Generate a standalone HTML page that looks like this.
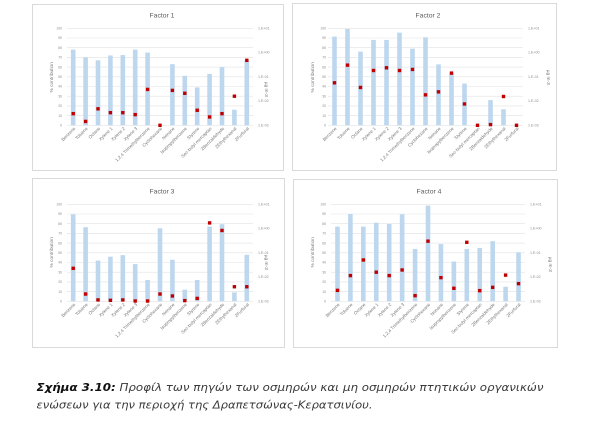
<!DOCTYPE html>
<html><head><meta charset="utf-8"><style>
html,body{margin:0;padding:0;background:#fff;width:600px;height:438px;overflow:hidden}
svg{display:block}
.t{font-family:"Liberation Sans",sans-serif}
.ttl{font-size:6.8px;fill:#595959;text-anchor:middle}
.yl{font-size:3.4px;fill:#8a8a8a;text-anchor:end}
.yr{font-size:3.6px;fill:#8a8a8a}
.at{font-size:4.8px;fill:#777;text-anchor:middle}
.cl{font-size:4.5px;fill:#777;text-anchor:end}
.g{stroke:#e2e2e2;stroke-width:0.6;fill:none}
.b{fill:#bdd7ee}
.m{fill:#c00000}
</style></head><body>
<svg width="600" height="438" viewBox="0 0 600 438" xmlns="http://www.w3.org/2000/svg">
<rect width="600" height="438" fill="#fff"/>
<!-- chart boxes -->
<rect x="32.5" y="4.5" width="251" height="166" fill="#fff" stroke="#d9d9d9" stroke-width="1"/>
<rect x="292.5" y="3.5" width="264" height="167" fill="#fff" stroke="#d9d9d9" stroke-width="1"/>
<rect x="32.5" y="178.5" width="252" height="169" fill="#fff" stroke="#d9d9d9" stroke-width="1"/>
<rect x="293.5" y="179.5" width="264" height="168" fill="#fff" stroke="#d9d9d9" stroke-width="1"/>

<!-- CHART 1 -->
<g class="t" transform="translate(67,28.3)">
<text class="ttl" x="95" y="-10.8">Factor 1</text>
<path class="g" d="M0 0H186M0 9.7H186M0 19.4H186M0 29.1H186M0 38.8H186M0 48.5H186M0 58.2H186M0 67.9H186M0 77.6H186M0 87.3H186M0 97H186"/>
<g class="yl"><text x="-5" y="1.2">100</text><text x="-5" y="10.9">90</text><text x="-5" y="20.6">80</text><text x="-5" y="30.3">70</text><text x="-5" y="40">60</text><text x="-5" y="49.7">50</text><text x="-5" y="59.4">40</text><text x="-5" y="69.1">30</text><text x="-5" y="78.8">20</text><text x="-5" y="88.5">10</text><text x="-5" y="98.2">0</text></g>
<g class="yr"><text x="191" y="1.2">1.E+01</text><text x="191" y="25.4">1.E+00</text><text x="191" y="49.7">1.E-01</text><text x="191" y="73.9">1.E-02</text><text x="191" y="98.2">1.E-03</text></g>
<text class="at" transform="translate(-14,49) rotate(-90)">% contribution</text>
<text class="at" transform="translate(198,61) rotate(90)">μg m-3</text>
<g class="b">
<rect x="3.9" y="21.34" width="4.6" height="75.66"/><rect x="16.3" y="29.1" width="4.6" height="67.9"/><rect x="28.7" y="32.01" width="4.6" height="64.99"/><rect x="41.1" y="27.16" width="4.6" height="69.84"/><rect x="53.5" y="26.77" width="4.6" height="70.23"/><rect x="65.9" y="21.34" width="4.6" height="75.66"/><rect x="78.3" y="24.25" width="4.6" height="72.75"/><rect x="103.1" y="35.89" width="4.6" height="61.11"/><rect x="115.5" y="47.53" width="4.6" height="49.47"/><rect x="127.9" y="59.17" width="4.6" height="37.83"/><rect x="140.3" y="45.59" width="4.6" height="51.41"/><rect x="152.7" y="38.8" width="4.6" height="58.2"/><rect x="165.1" y="81.48" width="4.6" height="15.52"/><rect x="177.5" y="32.01" width="4.6" height="64.99"/>
</g>
<g class="m">
<rect x="4.5" y="83.66" width="3.4" height="3.4"/><rect x="16.9" y="91.42" width="3.4" height="3.4"/><rect x="29.3" y="78.81" width="3.4" height="3.4"/><rect x="41.7" y="82.69" width="3.4" height="3.4"/><rect x="54.1" y="82.69" width="3.4" height="3.4"/><rect x="66.5" y="84.63" width="3.4" height="3.4"/><rect x="78.9" y="59.41" width="3.4" height="3.4"/><rect x="91.3" y="95.3" width="3.4" height="3.4"/><rect x="103.7" y="60.38" width="3.4" height="3.4"/><rect x="116.1" y="63.29" width="3.4" height="3.4"/><rect x="128.5" y="80.27" width="3.4" height="3.4"/><rect x="140.9" y="86.96" width="3.4" height="3.4"/><rect x="153.3" y="83.66" width="3.4" height="3.4"/><rect x="165.7" y="66.2" width="3.4" height="3.4"/><rect x="178.1" y="30.31" width="3.4" height="3.4"/>
</g>
<g class="cl">
<text transform="translate(8.7,100.5) rotate(-45)">Benzene</text><text transform="translate(21.1,100.5) rotate(-45)">Toluene</text><text transform="translate(33.5,100.5) rotate(-45)">Octane</text><text transform="translate(45.9,100.5) rotate(-45)">Xylene 1</text><text transform="translate(58.3,100.5) rotate(-45)">Xylene 2</text><text transform="translate(70.7,100.5) rotate(-45)">Xylene 3</text><text transform="translate(83.1,100.5) rotate(-45)">1,2,4 Trimethylbenzene</text><text transform="translate(95.5,100.5) rotate(-45)">Cyclohexane</text><text transform="translate(107.9,100.5) rotate(-45)">Nonane</text><text transform="translate(120.3,100.5) rotate(-45)">Isopropylbenzene</text><text transform="translate(132.7,100.5) rotate(-45)">Styrene</text><text transform="translate(145.1,100.5) rotate(-45)">Sec-butyl mercaptan</text><text transform="translate(157.5,100.5) rotate(-45)">2Benzaldehyde</text><text transform="translate(169.9,100.5) rotate(-45)">2Ethylhexanal</text><text transform="translate(182.3,100.5) rotate(-45)">2Furfural</text>
</g>
</g>

<!-- CHART 2 -->
<g class="t" transform="translate(328,28.3)">
<text class="ttl" x="100" y="-10.8">Factor 2</text>
<path class="g" d="M0 0H195M0 9.7H195M0 19.4H195M0 29.1H195M0 38.8H195M0 48.5H195M0 58.2H195M0 67.9H195M0 77.6H195M0 87.3H195M0 97H195"/>
<g class="yl"><text x="-2" y="1.2">100</text><text x="-2" y="10.9">90</text><text x="-2" y="20.6">80</text><text x="-2" y="30.3">70</text><text x="-2" y="40">60</text><text x="-2" y="49.7">50</text><text x="-2" y="59.4">40</text><text x="-2" y="69.1">30</text><text x="-2" y="78.8">20</text><text x="-2" y="88.5">10</text><text x="-2" y="98.2">0</text></g>
<g class="yr"><text x="200" y="1.2">1.E+01</text><text x="200" y="25.4">1.E+00</text><text x="200" y="49.7">1.E-01</text><text x="200" y="73.9">1.E-02</text><text x="200" y="98.2">1.E-03</text></g>
<text class="at" transform="translate(-14,49) rotate(-90)">% contribution</text>
<text class="at" transform="translate(219,49) rotate(90)">μg m-3</text>
<g class="b">
<rect x="4.2" y="8.34" width="4.6" height="88.66"/><rect x="17.2" y="0.68" width="4.6" height="96.32"/><rect x="30.2" y="23.28" width="4.6" height="73.72"/><rect x="43.2" y="11.64" width="4.6" height="85.36"/><rect x="56.2" y="11.64" width="4.6" height="85.36"/><rect x="69.2" y="4.36" width="4.6" height="92.64"/><rect x="82.2" y="20.37" width="4.6" height="76.63"/><rect x="95.2" y="9.02" width="4.6" height="87.98"/><rect x="108.2" y="36.08" width="4.6" height="60.92"/><rect x="121.2" y="45.2" width="4.6" height="51.8"/><rect x="134.2" y="55.29" width="4.6" height="41.71"/><rect x="160.2" y="71.78" width="4.6" height="25.22"/><rect x="173.2" y="80.99" width="4.6" height="16.01"/>
</g>
<g class="m">
<rect x="4.8" y="52.81" width="3.4" height="3.4"/><rect x="17.8" y="35.16" width="3.4" height="3.4"/><rect x="30.8" y="57.47" width="3.4" height="3.4"/><rect x="43.8" y="40.5" width="3.4" height="3.4"/><rect x="56.8" y="37.78" width="3.4" height="3.4"/><rect x="69.8" y="40.5" width="3.4" height="3.4"/><rect x="82.8" y="39.43" width="3.4" height="3.4"/><rect x="95.8" y="64.84" width="3.4" height="3.4"/><rect x="108.8" y="61.84" width="3.4" height="3.4"/><rect x="121.8" y="43.11" width="3.4" height="3.4"/><rect x="134.8" y="73.96" width="3.4" height="3.4"/><rect x="147.8" y="95.3" width="3.4" height="3.4"/><rect x="160.8" y="94.62" width="3.4" height="3.4"/><rect x="173.8" y="66.49" width="3.4" height="3.4"/><rect x="186.8" y="95.3" width="3.4" height="3.4"/>
</g>
<g class="cl">
<text transform="translate(9,100.5) rotate(-45)">Benzene</text><text transform="translate(22,100.5) rotate(-45)">Toluene</text><text transform="translate(35,100.5) rotate(-45)">Octane</text><text transform="translate(48,100.5) rotate(-45)">Xylene 1</text><text transform="translate(61,100.5) rotate(-45)">Xylene 2</text><text transform="translate(74,100.5) rotate(-45)">Xylene 3</text><text transform="translate(87,100.5) rotate(-45)">1,2,4 Trimethylbenzene</text><text transform="translate(100,100.5) rotate(-45)">Cyclohexane</text><text transform="translate(113,100.5) rotate(-45)">Nonane</text><text transform="translate(126,100.5) rotate(-45)">Isopropylbenzene</text><text transform="translate(139,100.5) rotate(-45)">Styrene</text><text transform="translate(152,100.5) rotate(-45)">Sec-butyl mercaptan</text><text transform="translate(165,100.5) rotate(-45)">2Benzaldehyde</text><text transform="translate(178,100.5) rotate(-45)">2Ethylhexanal</text><text transform="translate(191,100.5) rotate(-45)">2Furfural</text>
</g>
</g>

<!-- CHART 3 -->
<g class="t" transform="translate(67,204.3)">
<text class="ttl" x="95" y="-11">Factor 3</text>
<path class="g" d="M0 0H186M0 9.7H186M0 19.4H186M0 29.1H186M0 38.8H186M0 48.5H186M0 58.2H186M0 67.9H186M0 77.6H186M0 87.3H186M0 97H186"/>
<g class="yl"><text x="-5" y="1.2">100</text><text x="-5" y="10.9">90</text><text x="-5" y="20.6">80</text><text x="-5" y="30.3">70</text><text x="-5" y="40">60</text><text x="-5" y="49.7">50</text><text x="-5" y="59.4">40</text><text x="-5" y="69.1">30</text><text x="-5" y="78.8">20</text><text x="-5" y="88.5">10</text><text x="-5" y="98.2">0</text></g>
<g class="yr"><text x="191" y="1.2">1.E+01</text><text x="191" y="25.4">1.E+00</text><text x="191" y="49.7">1.E-01</text><text x="191" y="73.9">1.E-02</text><text x="191" y="98.2">1.E-03</text></g>
<text class="at" transform="translate(-14,48) rotate(-90)">% contribution</text>
<text class="at" transform="translate(198,58) rotate(90)">μg m-3</text>
<g class="b">
<rect x="3.9" y="9.99" width="4.6" height="87.01"/><rect x="16.3" y="22.89" width="4.6" height="74.11"/><rect x="28.7" y="56.26" width="4.6" height="40.74"/><rect x="41.1" y="52.38" width="4.6" height="44.62"/><rect x="53.5" y="50.83" width="4.6" height="46.17"/><rect x="65.9" y="59.75" width="4.6" height="37.25"/><rect x="78.3" y="75.66" width="4.6" height="21.34"/><rect x="90.7" y="23.96" width="4.6" height="73.04"/><rect x="103.1" y="55.48" width="4.6" height="41.52"/><rect x="115.5" y="85.36" width="4.6" height="11.64"/><rect x="127.9" y="75.66" width="4.6" height="21.34"/><rect x="140.3" y="22.31" width="4.6" height="74.69"/><rect x="152.7" y="19.88" width="4.6" height="77.12"/><rect x="165.1" y="88.08" width="4.6" height="8.92"/><rect x="177.5" y="50.44" width="4.6" height="46.56"/>
</g>
<g class="m">
<rect x="4.5" y="62.32" width="3.4" height="3.4"/><rect x="16.9" y="88.03" width="3.4" height="3.4"/><rect x="29.3" y="93.94" width="3.4" height="3.4"/><rect x="41.7" y="94.33" width="3.4" height="3.4"/><rect x="54.1" y="93.94" width="3.4" height="3.4"/><rect x="66.5" y="95.01" width="3.4" height="3.4"/><rect x="78.9" y="95.01" width="3.4" height="3.4"/><rect x="91.3" y="88.03" width="3.4" height="3.4"/><rect x="103.7" y="89.97" width="3.4" height="3.4"/><rect x="116.1" y="94.62" width="3.4" height="3.4"/><rect x="128.5" y="92.39" width="3.4" height="3.4"/><rect x="140.9" y="16.92" width="3.4" height="3.4"/><rect x="153.3" y="24.49" width="3.4" height="3.4"/><rect x="165.7" y="80.75" width="3.4" height="3.4"/><rect x="178.1" y="80.75" width="3.4" height="3.4"/>
</g>
<g class="cl">
<text transform="translate(8.7,100.5) rotate(-45)">Benzene</text><text transform="translate(21.1,100.5) rotate(-45)">Toluene</text><text transform="translate(33.5,100.5) rotate(-45)">Octane</text><text transform="translate(45.9,100.5) rotate(-45)">Xylene 1</text><text transform="translate(58.3,100.5) rotate(-45)">Xylene 2</text><text transform="translate(70.7,100.5) rotate(-45)">Xylene 3</text><text transform="translate(83.1,100.5) rotate(-45)">1,2,4 Trimethylbenzene</text><text transform="translate(95.5,100.5) rotate(-45)">Cyclohexane</text><text transform="translate(107.9,100.5) rotate(-45)">Nonane</text><text transform="translate(120.3,100.5) rotate(-45)">Isopropylbenzene</text><text transform="translate(132.7,100.5) rotate(-45)">Styrene</text><text transform="translate(145.1,100.5) rotate(-45)">Sec-butyl mercaptan</text><text transform="translate(157.5,100.5) rotate(-45)">2Benzaldehyde</text><text transform="translate(169.9,100.5) rotate(-45)">2Ethylhexanal</text><text transform="translate(182.3,100.5) rotate(-45)">2Furfural</text>
</g>
</g>

<!-- CHART 4 -->
<g class="t" transform="translate(331,204.3)">
<text class="ttl" x="98" y="-11">Factor 4</text>
<path class="g" d="M0 0H194M0 9.7H194M0 19.4H194M0 29.1H194M0 38.8H194M0 48.5H194M0 58.2H194M0 67.9H194M0 77.6H194M0 87.3H194M0 97H194"/>
<g class="yl"><text x="-5" y="1.2">100</text><text x="-5" y="10.9">90</text><text x="-5" y="20.6">80</text><text x="-5" y="30.3">70</text><text x="-5" y="40">60</text><text x="-5" y="49.7">50</text><text x="-5" y="59.4">40</text><text x="-5" y="69.1">30</text><text x="-5" y="78.8">20</text><text x="-5" y="88.5">10</text><text x="-5" y="98.2">0</text></g>
<g class="yr"><text x="199" y="1.2">1.E+01</text><text x="199" y="25.4">1.E+00</text><text x="199" y="49.7">1.E-01</text><text x="199" y="73.9">1.E-02</text><text x="199" y="98.2">1.E-03</text></g>
<text class="at" transform="translate(-17,48) rotate(-90)">% contribution</text>
<text class="at" transform="translate(218,60) rotate(90)">μg m-3</text>
<g class="b">
<rect x="4.17" y="22.31" width="4.6" height="74.69"/><rect x="17.1" y="9.7" width="4.6" height="87.3"/><rect x="30.03" y="22.31" width="4.6" height="74.69"/><rect x="42.97" y="18.43" width="4.6" height="78.57"/><rect x="55.9" y="19.69" width="4.6" height="77.31"/><rect x="68.83" y="9.99" width="4.6" height="87.01"/><rect x="81.77" y="44.62" width="4.6" height="52.38"/><rect x="94.7" y="1.36" width="4.6" height="95.64"/><rect x="107.63" y="39.77" width="4.6" height="57.23"/><rect x="120.57" y="57.23" width="4.6" height="39.77"/><rect x="133.5" y="44.62" width="4.6" height="52.38"/><rect x="146.43" y="43.65" width="4.6" height="53.35"/><rect x="159.37" y="36.86" width="4.6" height="60.14"/><rect x="172.3" y="82.45" width="4.6" height="14.55"/><rect x="185.23" y="48.01" width="4.6" height="48.99"/>
</g>
<g class="m">
<rect x="4.77" y="84.34" width="3.4" height="3.4"/><rect x="17.7" y="69.6" width="3.4" height="3.4"/><rect x="30.63" y="53.98" width="3.4" height="3.4"/><rect x="43.57" y="66.2" width="3.4" height="3.4"/><rect x="56.5" y="69.6" width="3.4" height="3.4"/><rect x="69.43" y="63.97" width="3.4" height="3.4"/><rect x="82.37" y="89.67" width="3.4" height="3.4"/><rect x="95.3" y="35.16" width="3.4" height="3.4"/><rect x="108.23" y="71.63" width="3.4" height="3.4"/><rect x="121.17" y="82.3" width="3.4" height="3.4"/><rect x="134.1" y="36.32" width="3.4" height="3.4"/><rect x="147.03" y="84.63" width="3.4" height="3.4"/><rect x="159.97" y="81.33" width="3.4" height="3.4"/><rect x="172.9" y="69.11" width="3.4" height="3.4"/><rect x="185.83" y="77.65" width="3.4" height="3.4"/>
</g>
<g class="cl">
<text transform="translate(9,100.5) rotate(-45)">Benzene</text><text transform="translate(21.9,100.5) rotate(-45)">Toluene</text><text transform="translate(34.8,100.5) rotate(-45)">Octane</text><text transform="translate(47.8,100.5) rotate(-45)">Xylene 1</text><text transform="translate(60.7,100.5) rotate(-45)">Xylene 2</text><text transform="translate(73.6,100.5) rotate(-45)">Xylene 3</text><text transform="translate(86.6,100.5) rotate(-45)">1,2,4 Trimethylbenzene</text><text transform="translate(99.5,100.5) rotate(-45)">Cyclohexane</text><text transform="translate(112.4,100.5) rotate(-45)">Nonane</text><text transform="translate(125.4,100.5) rotate(-45)">Isopropylbenzene</text><text transform="translate(138.3,100.5) rotate(-45)">Styrene</text><text transform="translate(151.2,100.5) rotate(-45)">Sec-butyl mercaptan</text><text transform="translate(164.2,100.5) rotate(-45)">2Benzaldehyde</text><text transform="translate(177.1,100.5) rotate(-45)">2Ethylhexanal</text><text transform="translate(190,100.5) rotate(-45)">2Furfural</text>
</g>
</g>

<!-- Caption -->
<text x="36.5" y="391" font-family="'DejaVu Sans','Liberation Sans',sans-serif" font-size="11" font-style="italic" fill="#3a3a3a" textLength="507" lengthAdjust="spacingAndGlyphs"><tspan font-weight="bold" fill="#111">Σχήμα 3.10:</tspan> Προφίλ των πηγών των οσμηρών και μη οσμηρών πτητικών οργανικών</text>
<text x="36.5" y="408.5" font-family="'DejaVu Sans','Liberation Sans',sans-serif" font-size="11" font-style="italic" fill="#3a3a3a" textLength="336" lengthAdjust="spacingAndGlyphs">ενώσεων για την περιοχή της Δραπετσώνας-Κερατσινίου.</text>
</svg>
</body></html>
